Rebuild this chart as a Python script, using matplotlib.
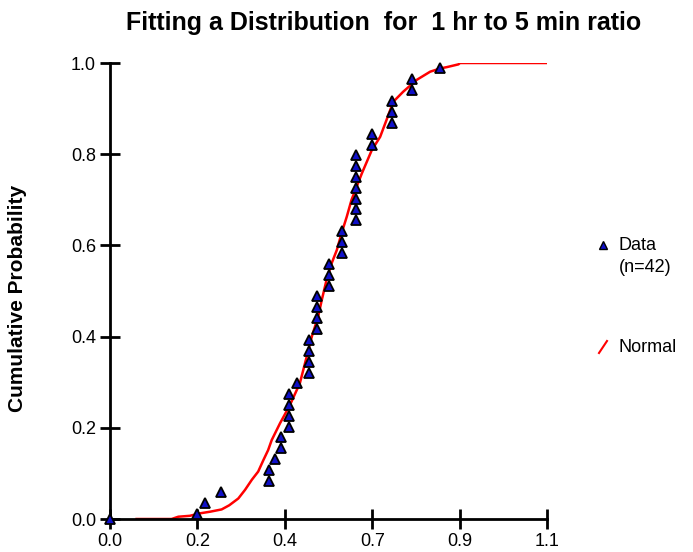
import matplotlib
matplotlib.use('Agg')
import matplotlib.pyplot as plt
import numpy as np

plt.rcParams['font.family'] = ['Liberation Sans', 'DejaVu Sans']

data_x = [0.0, 0.22, 0.24, 0.28, 0.40, 0.40, 0.415, 0.43, 0.43, 0.45, 0.45, 0.45, 0.45,
          0.47, 0.50, 0.50, 0.50, 0.50, 0.52, 0.52, 0.52, 0.52, 0.55, 0.55, 0.55,
          0.585, 0.585, 0.585, 0.62, 0.62, 0.62, 0.62, 0.62, 0.62, 0.62,
          0.66, 0.66, 0.71, 0.71, 0.71, 0.76, 0.76, 0.83]
data_y = [0.0, 0.012, 0.036, 0.060, 0.083, 0.107, 0.131, 0.155, 0.179, 0.202, 0.226,
          0.250, 0.274, 0.298, 0.321, 0.345, 0.369, 0.393, 0.417, 0.440, 0.464,
          0.488, 0.512, 0.536, 0.560, 0.583, 0.607, 0.631, 0.655, 0.679, 0.702,
          0.726, 0.750, 0.774, 0.798, 0.821, 0.845, 0.869, 0.893, 0.917, 0.940,
          0.964, 0.988]

# fitted normal cdf
norm_x = [0.067, 0.155, 0.172, 0.201, 0.227, 0.252, 0.281, 0.300, 0.323, 0.340, 0.357,
          0.373, 0.386, 0.398, 0.407, 0.428, 0.453, 0.478, 0.491, 0.508, 0.524, 0.533,
          0.545, 0.558, 0.571, 0.583, 0.596, 0.608, 0.634, 0.659, 0.680, 0.696, 0.713,
          0.738, 0.772, 0.806, 0.831, 0.848, 0.877, 0.881, 1.1]
norm_y = [0.0, 0.0, 0.005, 0.007, 0.0125, 0.016, 0.021, 0.030, 0.045, 0.064, 0.086,
          0.104, 0.129, 0.151, 0.173, 0.210, 0.250, 0.298, 0.342, 0.400, 0.444, 0.480,
          0.524, 0.561, 0.590, 0.627, 0.663, 0.700, 0.758, 0.809, 0.838, 0.875, 0.915,
          0.937, 0.963, 0.981, 0.988, 0.991, 0.997, 1.0, 1.0]

x_ticks = [0.0, 0.22, 0.44, 0.66, 0.88, 1.1]
y_ticks = [0.0, 0.2, 0.4, 0.6, 0.8, 1.0]

fig = plt.figure(figsize=(6.93, 5.52), dpi=100)
ax = fig.add_axes([110 / 693, 33 / 552, 437 / 693, 456 / 552])

ax.plot(norm_x, norm_y, color='#ff0000', lw=1.8, zorder=2)
ax.plot(data_x, data_y, linestyle='none', marker='^', markersize=6.8,
        markerfacecolor='#1010c8', markeredgecolor='black', markeredgewidth=1.3,
        clip_on=False, zorder=3)

ax.set_xlim(0, 1.1)
ax.set_ylim(0, 1.0)
ax.set_xticks(x_ticks)
ax.set_xticklabels(['%.1f' % t for t in x_ticks])
ax.set_yticks(y_ticks)
ax.set_yticklabels(['%.1f' % t for t in y_ticks])

for side in ['top', 'right']:
    ax.spines[side].set_visible(False)
for side in ['left', 'bottom']:
    ax.spines[side].set_linewidth(2)
ax.tick_params(direction='inout', length=14, width=2, labelsize=13, pad=3)

fig.text(384 / 693, 1 - 23 / 552, 'Fitting a Distribution  for  1 hr to 5 min ratio',
         ha='center', va='center', fontsize=18, fontweight='bold')
fig.text(18 / 693, 1 - 298 / 552, 'Cumulative Probability', rotation=90,
         ha='center', va='center', fontsize=15, fontweight='bold')

# legend
fig.lines.append(plt.Line2D([603 / 693], [1 - 245 / 552], transform=fig.transFigure,
                            marker='^', markersize=6, markerfacecolor='#1010c8',
                            markeredgecolor='black', linestyle='none'))
fig.text(619 / 693, 1 - 246 / 552, 'Data', ha='left', va='center', fontsize=13)
fig.text(619 / 693, 1 - 268 / 552, '(n=42)', ha='left', va='center', fontsize=13)
fig.lines.append(plt.Line2D([599 / 693, 607 / 693], [1 - 353 / 552, 1 - 341 / 552],
                            transform=fig.transFigure, color='#ff0000', lw=1.5))
fig.text(619 / 693, 1 - 347 / 552, 'Normal', ha='left', va='center', fontsize=13)

fig.savefig('out.png', dpi=100)
